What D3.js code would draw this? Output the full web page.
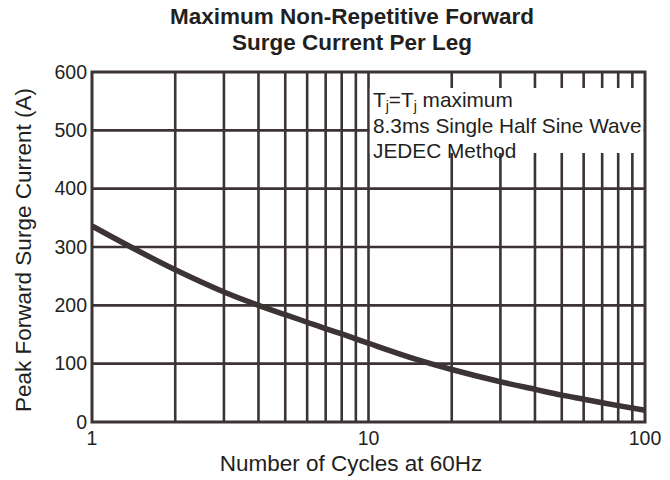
<!DOCTYPE html>
<html>
<head>
<meta charset="utf-8">
<script src="https://cdn.jsdelivr.net/npm/d3@7"></script>
<style>
  body { margin: 0; background: #fff; }
  text { font-family: 'Liberation Sans', Arial, sans-serif; fill: #231f20; }
</style>
</head>
<body>
<div id="chart"></div>
<script>
// values
const cycles = [1, 2, 3, 4, 5, 6, 7, 8, 10, 15, 20, 30, 40, 50, 60, 70, 80, 100]
const current = [336, 261, 223, 200, 184, 171, 160, 151, 135, 107, 90, 69, 56, 46, 39, 33, 28, 20]

const xGrid = [2, 3, 4, 5, 6, 7, 8, 9, 10, 20, 30, 40, 50, 60, 70, 80, 90]
const xTickLabels = [1, 10, 100]
const yTicks = [0, 100, 200, 300, 400, 500, 600]
const legendLines = ['8.3ms Single Half Sine Wave', 'JEDEC Method']

const width = 670
const height = 480
const ink = '#3b3334'

const svg = d3.select('#chart').append('svg')
  .attr('width', width)
  .attr('height', height)

const x = d3.scaleLog()
  .domain([1, 100])
  .range([92, 645])

const y = d3.scaleLinear()
  .domain([0, 600])
  .range([422, 72])

// grid
svg.append('g')
  .selectAll('line')
  .data(xGrid)
  .enter()
  .append('line')
  .attr('x1', d => x(d))
  .attr('x2', d => x(d))
  .attr('y1', y(600))
  .attr('y2', y(0))
  .style('stroke', ink)
  .style('stroke-width', 2.6)

svg.append('g')
  .selectAll('line')
  .data(yTicks.slice(1, -1))
  .enter()
  .append('line')
  .attr('x1', x(1))
  .attr('x2', x(100))
  .attr('y1', d => y(d))
  .attr('y2', d => y(d))
  .style('stroke', ink)
  .style('stroke-width', 2.6)

// legend box hides the grid behind the note
const boxTop = 88
const boxBottom = 153
svg.append('rect')
  .attr('x', x(10) + 1.3)
  .attr('y', boxTop)
  .attr('width', x(100) - x(10) - 2.6)
  .attr('height', boxBottom - boxTop)
  .style('fill', '#fff')

// frame
svg.append('rect')
  .attr('x', x(1))
  .attr('y', y(600))
  .attr('width', x(100) - x(1))
  .attr('height', y(0) - y(600))
  .style('fill', 'none')
  .style('stroke', ink)
  .style('stroke-width', 3)

// curve
const line = d3.line()
  .x((d, i) => x(cycles[i]))
  .y(d => y(d))
  .curve(d3.curveMonotoneX)

svg.append('path')
  .datum(current)
  .attr('d', line)
  .style('fill', 'none')
  .style('stroke', ink)
  .style('stroke-width', 5.5)

// tick labels
svg.append('g')
  .selectAll('text')
  .data(yTicks)
  .enter()
  .append('text')
  .attr('x', 87)
  .attr('y', d => y(d))
  .attr('dy', '0.35em')
  .attr('text-anchor', 'end')
  .style('font-size', '19.5px')
  .text(d => d)

svg.append('g')
  .selectAll('text')
  .data(xTickLabels)
  .enter()
  .append('text')
  .attr('x', d => x(d))
  .attr('y', 445)
  .attr('text-anchor', 'middle')
  .style('font-size', '19.5px')
  .text(d => d)

// titles
const title = svg.append('text')
  .attr('text-anchor', 'middle')
  .style('font-size', '22.5px')
  .style('font-weight', 'bold')
title.append('tspan').attr('x', 352).attr('y', 24).text('Maximum Non-Repetitive Forward')
title.append('tspan').attr('x', 352).attr('y', 50).text('Surge Current Per Leg')

svg.append('text')
  .attr('x', 351)
  .attr('y', 471)
  .attr('text-anchor', 'middle')
  .style('font-size', '22.5px')
  .text('Number of Cycles at 60Hz')

svg.append('text')
  .attr('transform', 'translate(31,250) rotate(-90)')
  .attr('text-anchor', 'middle')
  .style('font-size', '22.5px')
  .text('Peak Forward Surge Current (A)')

// note
const note = svg.append('g')
  .style('font-size', '20.8px')

const tj = note.append('text')
  .attr('x', 373)
  .attr('y', 107)
tj.append('tspan').text('T')
tj.append('tspan').attr('dy', 4).style('font-size', '14px').text('j')
tj.append('tspan').attr('dy', -4).text('=T')
tj.append('tspan').attr('dy', 4).style('font-size', '14px').text('j')
tj.append('tspan').attr('dy', -4).text(' maximum')

note.selectAll('text.line')
  .data(legendLines)
  .enter()
  .append('text')
  .attr('class', 'line')
  .attr('x', 373)
  .attr('y', (d, i) => 133 + i * 25)
  .text(d => d)
</script>
</body>
</html>
